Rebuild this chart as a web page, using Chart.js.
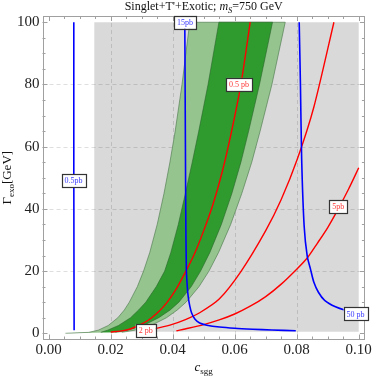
<!DOCTYPE html>
<html><head><meta charset="utf-8">
<script src="https://cdn.jsdelivr.net/npm/chart.js@4.4.1/dist/chart.umd.min.js"></script>
<style>html,body{margin:0;padding:0;background:#fff;}#wrap{width:374px;height:378px;position:relative;}</style>
</head><body><div id="wrap"><canvas id="c" width="374" height="378"></canvas></div>
<script>
// ---- axis ticks ----
const xTicks = [0, 0.02, 0.04, 0.06, 0.08, 0.10];
const yTicks = [0, 20, 40, 60, 80, 100];

// ---- grey region ----
const grayC = [0.0147, 0.0147, 0.1, 0.1];
const grayG = [0.5, 100, 100, 0.5];

// ---- green bands (c values at each Gamma level) ----
const bandG       = [0.3, 1, 2.5, 5, 7.5, 10, 15, 20, 26, 35, 45, 55, 65, 80, 100];
const lightTipC   = [0.0054];
const lightTipG   = [0];
const lightLeftC  = [0.0129, 0.0160, 0.0192, 0.0223, 0.0244, 0.0260, 0.0286, 0.0306, 0.0326, 0.0350, 0.0372, 0.0391, 0.0408, 0.0430, 0.0455];
const darkLeftC   = [0.0168, 0.0190, 0.0225, 0.0264, 0.0290, 0.0313, 0.0347, 0.0374, 0.0394, 0.0418, 0.0441, 0.0463, 0.0484, 0.0514, 0.0549];
const darkRightC  = [0.0215, 0.0255, 0.0305, 0.0355, 0.0392, 0.0420, 0.0460, 0.0490, 0.0520, 0.0557, 0.0591, 0.0620, 0.0645, 0.0680, 0.0722];
const lightRightC = [0.0236, 0.0278, 0.0330, 0.0380, 0.0415, 0.0443, 0.0485, 0.0517, 0.0548, 0.0587, 0.0623, 0.0655, 0.0682, 0.0720, 0.0763];

// ---- red contours ----
const red05C = [0.0200, 0.0230, 0.0260, 0.0290, 0.0320, 0.0350, 0.0380, 0.0410, 0.0440, 0.0470, 0.0500, 0.0530, 0.0560, 0.0590, 0.0620, 0.0650];
const red05G = [0.4, 0.7, 1.3, 2.5, 4.1, 6.5, 9.7, 14, 19.5, 25.5, 33, 41.5, 52, 65, 80, 100];
const red2C  = [0.0300, 0.0343, 0.0391, 0.0439, 0.0487, 0.0550, 0.0621, 0.0700, 0.0750, 0.0802, 0.0856, 0.0920];
const red2G  = [0.8, 1.5, 2.6, 4.3, 6.6, 11, 20, 33, 43, 56, 73, 100];
const red5C  = [0.0412, 0.0450, 0.0500, 0.0550, 0.0600, 0.0650, 0.0700, 0.0750, 0.0800, 0.0834, 0.0867, 0.0900, 0.0934, 0.0967, 0.1000];
const red5G  = [0.8, 1.6, 2.8, 4.3, 6.2, 8.7, 11.8, 15.8, 20.6, 24.2, 29, 34, 40, 46.3, 53.2];

// ---- blue contours ----
const blue05C = [0.0082, 0.0081, 0.0081];
const blue05G = [1, 50, 100];
const blue15C = [0.0439, 0.0440, 0.0441, 0.0442, 0.0444, 0.0447, 0.0450, 0.0455, 0.0461, 0.0472, 0.0487, 0.0510, 0.0551, 0.0600, 0.0658, 0.0720, 0.0797];
const blue15G = [100, 80, 60, 40, 20.4, 15, 11.8, 8.8, 6.5, 4.5, 3.3, 2.6, 2.0, 1.6, 1.3, 1.05, 0.8];
const blue50C = [0.0808, 0.0812, 0.0816, 0.0824, 0.0834, 0.0845, 0.0855, 0.0870, 0.0890, 0.0925, 0.0957, 0.1000];
const blue50G = [100, 80, 55.8, 34.4, 24.7, 20.4, 16.5, 13.2, 10.6, 8.5, 7.4, 6.4];

// ---- contour labels ----
const labelText  = ['0.5pb', '15pb', '0.5 pb', '2 pb', '5pb', '50 pb'];
const labelC     = [0.0080, 0.0440, 0.0614, 0.0313, 0.0934, 0.0990];
const labelG     = [49, 100, 80, 0.8, 40.7, 6.2];
const labelColor = ['#3b3bff', '#3b3bff', '#ff3838', '#ff3838', '#ff3838', '#3b3bff'];

const SERIF = "'Liberation Serif', 'DejaVu Serif', serif";

function pts(cs, gs) { return cs.map((c, i) => ({x: c, y: gs[i]})); }

const grayPoly  = pts(grayC, grayG);
const lightPoly = pts(lightTipC, lightTipG).concat(pts(lightLeftC, bandG), pts(lightRightC, bandG).reverse());
const darkPoly  = pts(darkLeftC, bandG).concat(pts(darkRightC, bandG).reverse());

function lineDs(cs, gs, color, w, order) {
  return {data: pts(cs, gs), borderColor: color, borderWidth: w, fill: false, tension: 0.25, order: order, pointRadius: 0};
}

const gridPlugin = {
  id: 'gridPlugin',
  beforeDraw(chart) {
    const ctx = chart.ctx;
    ctx.save(); ctx.fillStyle = '#fff'; ctx.fillRect(0, 0, chart.width, chart.height); ctx.restore();
  },
  afterDatasetDraw(chart, args) {
    if (args.index !== 0) return;   // draw grid right after the grey region
    const {ctx, chartArea: a, scales: {x, y}} = chart;
    ctx.save();
    ctx.strokeStyle = 'rgba(0,0,0,0.13)'; ctx.lineWidth = 1; ctx.setLineDash([4, 3]);
    xTicks.slice(1, -1).forEach(v => {
      const px = Math.round(x.getPixelForValue(v)) + 0.5;
      ctx.beginPath(); ctx.moveTo(px, a.top); ctx.lineTo(px, a.bottom); ctx.stroke();
    });
    yTicks.slice(1, -1).forEach(v => {
      const py = Math.round(y.getPixelForValue(v)) + 0.5;
      ctx.beginPath(); ctx.moveTo(a.left, py); ctx.lineTo(a.right, py); ctx.stroke();
    });
    ctx.restore();
  },
  afterDatasetsDraw(chart) {
    const {ctx, chartArea: a, scales: {x, y}} = chart;
    ctx.save();
    // frame
    ctx.strokeStyle = '#a0a0a0'; ctx.lineWidth = 1; ctx.setLineDash([]);
    ctx.strokeRect(Math.round(a.left) + 0.5, Math.round(a.top) + 0.5, Math.round(a.right - a.left) - 1, Math.round(a.bottom - a.top) - 1);
    // ticks
    ctx.beginPath();
    const xStep = 0.005, yStep = 5;
    for (let i = 0; i <= 20; i++) {
      const v = i * xStep; const px = Math.round(x.getPixelForValue(v)) + 0.5;
      const len = (i % 4 === 0) ? 5 : 3;
      ctx.moveTo(px, a.bottom); ctx.lineTo(px, a.bottom - len);
      ctx.moveTo(px, a.top); ctx.lineTo(px, a.top + len);
    }
    for (let i = 0; i <= 20; i++) {
      const v = i * yStep; const py = Math.round(y.getPixelForValue(v)) + 0.5;
      const len = (i % 4 === 0) ? 5 : 3;
      ctx.moveTo(a.left, py); ctx.lineTo(a.left + len, py);
      ctx.moveTo(a.right, py); ctx.lineTo(a.right - len, py);
    }
    ctx.stroke();
    // contour labels
    ctx.font = '8px ' + SERIF; ctx.textBaseline = 'middle'; ctx.textAlign = 'center';
    labelText.forEach((t, i) => {
      const px = x.getPixelForValue(labelC[i]), py = y.getPixelForValue(labelG[i]);
      const w = ctx.measureText(t).width + 6, h = 13;
      ctx.fillStyle = '#fff';
      ctx.fillRect(px - w / 2, py - h / 2, w, h);
      ctx.strokeStyle = '#333'; ctx.lineWidth = 1.2;
      ctx.strokeRect(Math.round(px - w / 2) + 0.5, Math.round(py - h / 2) + 0.5, Math.round(w), h);
      ctx.fillStyle = labelColor[i];
      ctx.fillText(t, px, py + 0.5);
    });
    ctx.restore();
  },
  afterDraw(chart) {
    const {ctx, chartArea: a} = chart;
    const cx = (a.left + a.right) / 2;
    function rich(parts, x0, y0) {
      let xx = x0;
      parts.forEach(p => { ctx.font = p.f; ctx.fillText(p.t, xx, y0 + (p.dy || 0)); xx += ctx.measureText(p.t).width; });
    }
    function richWidth(parts) {
      let w = 0; parts.forEach(p => { ctx.font = p.f; w += ctx.measureText(p.t).width; }); return w;
    }
    ctx.save();
    ctx.fillStyle = '#111'; ctx.textBaseline = 'alphabetic'; ctx.textAlign = 'left';
    // title
    const title = [
      {t: "Singlet+T'+Exotic; ", f: '12px ' + SERIF},
      {t: 'm', f: 'italic 12px ' + SERIF},
      {t: 'S', f: 'italic 8.5px ' + SERIF, dy: 2.5},
      {t: '=750 GeV', f: '12px ' + SERIF}
    ];
    rich(title, cx - richWidth(title) / 2, 10);
    // x title
    const xt = [
      {t: 'c', f: 'italic 13px ' + SERIF},
      {t: 'sgg', f: '9px ' + SERIF, dy: 3}
    ];
    rich(xt, cx - richWidth(xt) / 2, 371);
    // y title
    const yt = [
      {t: '\u0393', f: '13px ' + SERIF},
      {t: 'exo', f: '9px ' + SERIF, dy: 3},
      {t: '[GeV]', f: '13px ' + SERIF}
    ];
    ctx.translate(11, (a.top + a.bottom) / 2);
    ctx.rotate(-Math.PI / 2);
    rich(yt, -richWidth(yt) / 2, 0);
    ctx.restore();
  }
};

new Chart(document.getElementById('c'), {
  type: 'line',
  data: {
    datasets: [
      {data: grayPoly, fill: 'shape', backgroundColor: 'rgba(0,0,0,0.15)', borderWidth: 0, borderColor: 'rgba(0,0,0,0)', order: 10, tension: 0},
      {data: lightPoly, fill: 'shape', backgroundColor: '#95c48f', borderColor: 'rgba(70,115,70,0.75)', borderWidth: 0.8, order: 9, tension: 0},
      {data: darkPoly, fill: 'shape', backgroundColor: '#2f9b2f', borderColor: 'rgba(40,95,40,0.7)', borderWidth: 0.8, order: 8, tension: 0},
      lineDs(red05C, red05G, '#ff0000', 1.4, 4),
      lineDs(red2C, red2G, '#ff0000', 1.4, 4),
      lineDs(red5C, red5G, '#ff0000', 1.4, 4),
      lineDs(blue05C, blue05G, '#0000ff', 1.6, 3),
      lineDs(blue15C, blue15G, '#0000ff', 1.6, 3),
      lineDs(blue50C, blue50G, '#0000ff', 1.6, 3)
    ]
  },
  options: {
    responsive: false, animation: false, events: [],
    layout: {padding: {top: 16, right: 8, left: 0, bottom: 0}},
    plugins: {legend: {display: false}, tooltip: {enabled: false}, title: {display: false}},
    elements: {point: {radius: 0}},
    scales: {
      x: {
        type: 'linear', min: -0.002, max: 0.102,
        grid: {display: false, drawTicks: false}, border: {display: false},
        afterBuildTicks: s => { s.ticks = xTicks.map(v => ({value: v})); },
        afterFit: s => { s.height = 38.5; },
        ticks: {font: {family: SERIF, size: 15}, color: '#222', padding: 2, maxRotation: 0, autoSkip: false,
                callback: v => Number(v).toFixed(2)}
      },
      y: {
        type: 'linear', min: -2, max: 102,
        grid: {display: false, drawTicks: false}, border: {display: false},
        afterBuildTicks: s => { s.ticks = yTicks.map(v => ({value: v})); },
        afterFit: s => { s.width = 42.5; },
        ticks: {font: {family: SERIF, size: 15}, color: '#222', padding: 3, autoSkip: false,
                callback: v => String(v)}
      }
    }
  },
  plugins: [gridPlugin]
});
</script></body></html>
